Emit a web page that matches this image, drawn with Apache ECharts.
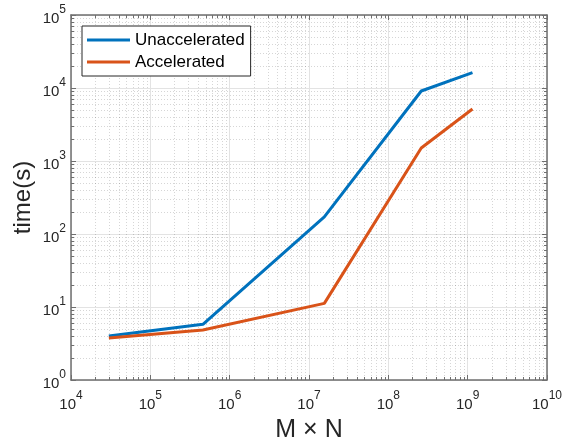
<!DOCTYPE html>
<html>
<head>
<meta charset="utf-8">
<script src="https://cdn.jsdelivr.net/npm/echarts@6/dist/echarts.min.js"></script>
<style>
  html, body { margin: 0; padding: 0; background: #fff; }
  #chart { width: 564px; height: 443px; }
</style>
</head>
<body>
<div id="chart"></div>
<script>
// Problem size (M x N) and run time in seconds
const sizes = [3.0e4, 4.6e5, 1.56e7, 2.6e8, 1.15e9];
const unaccelerated = [4.0, 5.8, 172, 9100, 16200];
const accelerated = [3.76, 4.84, 11.2, 1507, 5150];
const seriesNames = ['Unaccelerated', 'Accelerated'];
const seriesColors = ['#0072BD', '#D95319'];

// Axis ranges (powers of ten)
const xDecades = [4, 10];
const yDecades = [0, 5];

const AXIS_COLOR = '#6f6f6f';
const TEXT_COLOR = '#262626';
const FONT = 'Liberation Sans, Arial, Helvetica, sans-serif';

// Minor gridline positions: 2..9 x 10^d inside each decade
function minorValues(lo, hi) {
  const out = [];
  for (let d = lo; d < hi; d++) {
    for (let k = 2; k <= 9; k++) out.push(k * Math.pow(10, d));
  }
  return out;
}
const minorData = [];
minorValues(xDecades[0], xDecades[1]).forEach(v => minorData.push([v, 10, 0]));
minorValues(yDecades[0], yDecades[1]).forEach(v => minorData.push([1e5, v, 1]));

function powerLabel(v) {
  const e = Math.round(Math.log10(v));
  return '{b|10}{e|' + e + '}';
}
const labelRich = {
  b: { fontSize: 15, color: TEXT_COLOR, fontFamily: FONT, lineHeight: 22, verticalAlign: 'bottom' },
  e: { fontSize: 12, color: TEXT_COLOR, fontFamily: FONT, lineHeight: 14, verticalAlign: 'top' }
};

function logAxis(extra) {
  return Object.assign({
    type: 'log',
    logBase: 10,
    axisLine: { show: true, onZero: false, lineStyle: { color: AXIS_COLOR, width: 1.5 } },
    axisTick: { show: true, inside: true, length: 5, lineStyle: { color: AXIS_COLOR } },
    splitLine: { show: false },
    minorTick: { show: false },
    axisLabel: { show: false }
  }, extra);
}

const chart = echarts.init(document.getElementById('chart'), null, { renderer: 'canvas' });

const option = {
  backgroundColor: '#ffffff',
  animation: false,
  grid: { left: 71, right: 17, top: 15, bottom: 63, containLabel: false, outerBoundsMode: 'none' },
  legend: {
    orient: 'vertical',
    left: 82,
    top: 26,
    data: seriesNames.map(n => ({ name: n, icon: 'rect' })),
    backgroundColor: '#ffffff',
    borderColor: '#262626',
    borderWidth: 1,
    borderRadius: 0,
    padding: [4, 6, 4, 5],
    itemWidth: 43,
    itemHeight: 3,
    itemGap: 2,
    itemTextGap: 4,
    textStyle: { fontSize: 17, color: '#000', fontFamily: FONT, lineHeight: 20 }
  },
  xAxis: [
    logAxis({
      position: 'bottom',
      min: Math.pow(10, xDecades[0]),
      max: Math.pow(10, xDecades[1]),
      name: 'M \u00d7 N',
      nameLocation: 'middle',
      nameGap: 38,
      nameMoveOverlap: false,
      nameTextStyle: { fontSize: 25, color: TEXT_COLOR, fontFamily: FONT },
      splitLine: { show: true, lineStyle: { color: '#e3e3e3', width: 1 } },
      axisLabel: {
        show: true, margin: 10, formatter: powerLabel, rich: labelRich
      }
    }),
    logAxis({
      position: 'top',
      min: Math.pow(10, xDecades[0]),
      max: Math.pow(10, xDecades[1])
    })
  ],
  yAxis: [
    logAxis({
      position: 'left',
      min: Math.pow(10, yDecades[0]),
      max: Math.pow(10, yDecades[1]),
      name: 'time(s)',
      nameLocation: 'middle',
      nameGap: 36,
      nameMoveOverlap: false,
      nameTextStyle: { fontSize: 24, color: TEXT_COLOR, fontFamily: FONT },
      splitLine: { show: true, lineStyle: { color: '#e3e3e3', width: 1 } },
      axisLabel: {
        show: true, margin: 5, formatter: powerLabel, rich: labelRich
      }
    }),
    logAxis({
      position: 'right',
      min: Math.pow(10, yDecades[0]),
      max: Math.pow(10, yDecades[1])
    })
  ],
  series: [
    {
      // minor dotted grid and short minor ticks on all four sides
      type: 'custom',
      silent: true,
      z: 1,
      clip: false,
      data: minorData,
      renderItem: function (params, api) {
        const cs = params.coordSys;
        const which = api.value(2);
        const dot = { stroke: 'rgba(0,0,0,0.16)', lineWidth: 1, lineDash: [1, 2] };
        const tk = { stroke: AXIS_COLOR, lineWidth: 1 };
        if (which === 0) {
          const px = Math.round(api.coord([api.value(0), 10])[0]) + 0.5;
          const y0 = cs.y, y1 = cs.y + cs.height;
          return { type: 'group', children: [
            { type: 'line', shape: { x1: px, y1: y0, x2: px, y2: y1 }, style: dot },
            { type: 'line', shape: { x1: px, y1: y1, x2: px, y2: y1 - 3 }, style: tk },
            { type: 'line', shape: { x1: px, y1: y0, x2: px, y2: y0 + 3 }, style: tk }
          ]};
        }
        const py = Math.round(api.coord([1e5, api.value(1)])[1]) + 0.5;
        const x0 = cs.x, x1 = cs.x + cs.width;
        return { type: 'group', children: [
          { type: 'line', shape: { x1: x0, y1: py, x2: x1, y2: py }, style: dot },
          { type: 'line', shape: { x1: x0, y1: py, x2: x0 + 3, y2: py }, style: tk },
          { type: 'line', shape: { x1: x1, y1: py, x2: x1 - 3, y2: py }, style: tk }
        ]};
      }
    },
    {
      name: seriesNames[0],
      type: 'line',
      z: 3,
      symbol: 'none',
      color: seriesColors[0],
      lineStyle: { width: 3, color: seriesColors[0] },
      data: sizes.map((x, i) => [x, unaccelerated[i]])
    },
    {
      name: seriesNames[1],
      type: 'line',
      z: 3,
      symbol: 'none',
      color: seriesColors[1],
      lineStyle: { width: 3, color: seriesColors[1] },
      data: sizes.map((x, i) => [x, accelerated[i]])
    }
  ]
};

chart.setOption(option);
</script>
</body>
</html>
